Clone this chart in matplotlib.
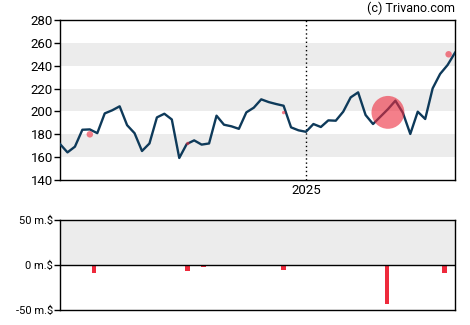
"""
Weekly share price with insider-trade markers (top) and net insider
transactions in million $ (bottom), Trivano style.
"""

import matplotlib

matplotlib.use("Agg")
import matplotlib.dates as mdates  # noqa: E402
import matplotlib.pyplot as plt  # noqa: E402
import pandas as pd  # noqa: E402

plt.rcParams["font.family"] = ["Roboto", "DejaVu Sans"]

# weekly closes
START = "2024-05-15"
PRICES = [
    171.5, 164.2, 169.2, 184.0, 184.3, 181.0, 198.3, 201.0, 204.5, 188.0,
    181.0, 165.4, 172.0, 194.8, 198.0, 193.0, 159.3, 171.5, 174.7, 171.0,
    172.0, 196.3, 188.4, 187.0, 184.8, 199.2, 203.3, 210.6, 208.2, 206.5,
    205.0, 186.1, 183.5, 182.2, 189.0, 186.4, 192.2, 191.9, 199.8, 212.3,
    216.7, 196.9, 189.0, 195.5, 202.0, 209.4, 198.9, 180.3, 199.8, 193.4,
    220.2, 232.8, 240.6, 251.4,
]

# insider trades shown as dots on the price line (size ~ amount)
TRADE_DATES = ["2024-06-12", "2024-09-12", "2024-12-11", "2025-03-19", "2025-05-15"]
TRADE_PRICES = [180.0, 172.0, 199.0, 199.2, 250.0]
TRADE_SIZES = [22, 6, 6, 560, 22]

# net insider transactions, million $
BAR_DATES = ["2024-06-16", "2024-09-12", "2024-09-27", "2024-12-11", "2025-03-18", "2025-05-11"]
BAR_VALUES = [-8.3, -6.0, -1.5, -4.9, -43.0, -8.3]

NAVY = "#0e3a5a"
RED = "#ee2a3c"
BAND = "#ececec"

dates = pd.date_range(START, periods=len(PRICES), freq="7D")

fig = plt.figure(figsize=(4.7, 3.25), dpi=100)
ax = fig.add_axes([0.1277, 0.446, 0.8404, 0.4925])
ax2 = fig.add_axes([0.1277, 0.046, 0.8404, 0.276])

# alternating bands on the price panel
for lo in (160, 200, 240):
    ax.axhspan(lo, lo + 20, color=BAND, lw=0, zorder=0)

ax.plot(dates, PRICES, color=NAVY, lw=1.7, zorder=3)
ax.scatter(pd.to_datetime(TRADE_DATES), TRADE_PRICES, s=TRADE_SIZES,
           color=RED, alpha=0.6, lw=0, zorder=4)
ax.axvline(pd.Timestamp("2025-01-01"), color="black", ls=(0, (1, 2)), lw=1, zorder=2)

ax.set_xlim(dates[0], dates[-1])
ax.set_ylim(140, 280)
ax.set_yticks(range(140, 281, 20))
ax.set_xticks([pd.Timestamp("2025-01-01")])
ax.xaxis.set_major_formatter(mdates.DateFormatter("%Y"))
ax.tick_params(axis="both", labelsize=9.5, length=4, width=1, pad=1)
ax.tick_params(axis="x", length=0, pad=3)
for s in ax.spines.values():
    s.set_linewidth(1)

fig.text(0.968, 0.975, "(c) Trivano.com", ha="right", va="center", fontsize=9)

# insider bars
ax2.axhspan(0, 50, color=BAND, lw=0, zorder=0)
ax2.bar(pd.to_datetime(BAR_DATES), BAR_VALUES, width=4.4, color=RED, zorder=3)
ax2.axhline(0, color="black", lw=1, zorder=4)
ax2.set_xlim(dates[0], dates[-1])
ax2.set_ylim(-50, 50)
ax2.set_yticks([50, 0, -50])
ax2.set_yticklabels(["50 m.$", "0 m.$", "-50 m.$"])
ax2.set_xticks([])
ax2.tick_params(axis="y", labelsize=8, length=4, width=1, pad=1)
for s in ax2.spines.values():
    s.set_linewidth(1)

fig.savefig("out.png", dpi=100)
